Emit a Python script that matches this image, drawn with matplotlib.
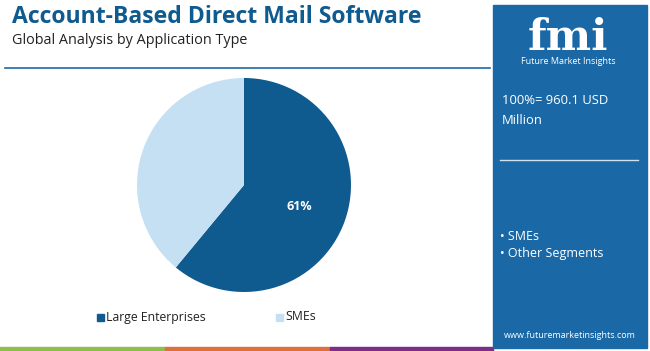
import matplotlib
matplotlib.use('Agg')
import matplotlib.pyplot as plt
from matplotlib.patches import Rectangle

# Donnees
segments = ['Large Enterprises', 'SMEs']
shares = [61, 39]
colors = ['#0f5a8f', '#c5e0f2']
total_label = '100%= 960.1 USD\nMillion'
side_items = ['SMEs', 'Other Segments']

W, H = 650, 351
fig = plt.figure(figsize=(W / 100, H / 100), dpi=100)
fig.patch.set_facecolor('white')


def px(x, y):
    """pixels (origine en haut a gauche) -> fraction de figure"""
    return x / W, 1 - y / H


# Titre
fig.text(*px(12, 17), 'Account-Based Direct Mail Software', fontsize=16.6,
         fontweight='bold', color='#0f5a8f', family='Open Sans', va='center')
fig.text(*px(12, 41), 'Global Analysis by Application Type', fontsize=10.4,
         color='#222222', family='Open Sans', va='center')
fig.add_artist(plt.Line2D([5 / W, 490 / W], [1 - 68 / H] * 2, color='#1f6aa5', lw=1.2))

# Camembert
ax = fig.add_axes([137 / W, 1 - 292 / H, 214 / W, 214 / H])
wedges, _ = ax.pie(shares, colors=colors, startangle=90, counterclock=False)
ax.set_aspect('equal')
ax.set_xlim(-1, 1)
ax.set_ylim(-1, 1)
ax.text(0.52, -0.2, f'{shares[0]}%', color='white', fontsize=9, fontweight='bold',
        ha='center', va='center', family='Open Sans')

# Legende
for (lx, name), c in zip([(97, segments[0]), (276, segments[1])], colors):
    fig.add_artist(Rectangle(px(lx, 321), 7 / W, 7 / H, color=c, transform=fig.transFigure))
    fig.text(*px(lx + 9, 317), name, fontsize=8.8, color='#222222',
             family='Open Sans', va='center')

# Bandes du bas
for x0, x1, c in [(0, 165, '#8dc04a'), (165, 330, '#e0703a'), (330, 493, '#7e2b8a')]:
    fig.add_artist(Rectangle(px(x0, 351), (x1 - x0) / W, 4 / H, color=c,
                             transform=fig.transFigure))

# Panneau de droite
fig.add_artist(Rectangle(px(493, 348), 154 / W, 343 / H, color='#1a69a6',
                         transform=fig.transFigure))
fig.text(*px(568, 50), 'fmi', fontsize=31, fontweight='bold', color='white',
         family='DejaVu Serif', ha='center', va='baseline')
fig.text(*px(568, 62), 'Future Market Insights', fontsize=6.5, color='white',
         family='Open Sans', ha='center', va='center')
fig.text(*px(502, 111), total_label, fontsize=9.4, color='white', family='Open Sans',
         va='center', linespacing=1.7)
fig.add_artist(plt.Line2D([500 / W, 638 / W], [1 - 160 / H] * 2, color='#cfe0ee', lw=1))
fig.text(*px(500, 245), '\n'.join('• ' + s for s in side_items), fontsize=9,
         color='white', family='Open Sans', va='center', linespacing=1.3)
fig.text(*px(570, 336), 'www.futuremarketinsights.com', fontsize=6.5, color='white',
         family='Open Sans', ha='center', va='center')

plt.savefig('out.png', dpi=100)
